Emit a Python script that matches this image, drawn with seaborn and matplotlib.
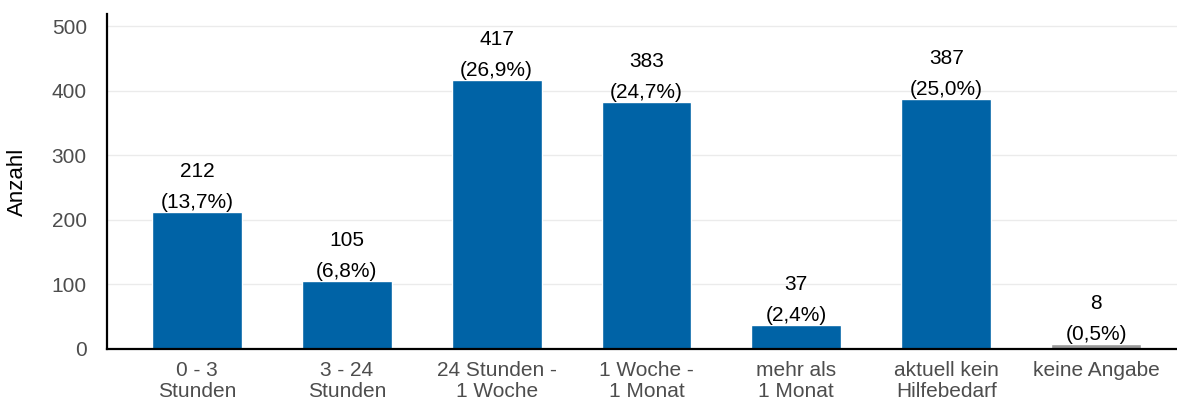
import pandas as pd
import matplotlib.pyplot as plt
import seaborn as sb

# daten
kategorien = ['0 - 3\nStunden', '3 - 24\nStunden', '24 Stunden -\n1 Woche',
              '1 Woche -\n1 Monat', 'mehr als\n1 Monat', 'aktuell kein\nHilfebedarf',
              'keine Angabe']
anzahl = [212, 105, 417, 383, 37, 387, 8]
prozent = ['13,7', '6,8', '26,9', '24,7', '2,4', '25,0', '0,5']
farben = ['#0063a6'] * 6 + ['#999999']

sb.set_style('white')
plt.rcParams['font.family'] = ['Liberation Sans', 'DejaVu Sans']

df = pd.DataFrame({'kategorie': kategorien, 'anzahl': anzahl})

fig = plt.figure(figsize=(11.77, 4.01), dpi=100)
ax = fig.add_axes([0.0909, 0.1297, 0.9091, 0.8353])

sb.barplot(data=df, x='kategorie', y='anzahl', hue='kategorie', palette=farben,
           width=0.6, saturation=1, legend=False, ax=ax, zorder=2)

for i, (n, p) in enumerate(zip(anzahl, prozent)):
    ax.annotate('{}\n({}%)'.format(n, p), (i, n), xytext=(0, 0), textcoords='offset points',
                ha='center', va='bottom', fontsize=15, color='black', linespacing=1.8)

ax.set_ylim(0, 519)
ax.set_xlim(-0.6, 6.54)
ax.set_yticks([0, 100, 200, 300, 400, 500])
ax.yaxis.grid(True, color='#ebebeb', linewidth=1, zorder=0)
ax.set_axisbelow(True)
ax.set_xlabel('')
ax.set_ylabel('Anzahl', fontsize=16, color='black')
ax.yaxis.set_label_coords(-0.0735, 0.5)
ax.tick_params(axis='both', labelsize=15, labelcolor='#4d4d4d', color='#333333',
               length=5, width=1.2, direction='out')
ax.tick_params(axis='y', pad=9.5)
ax.tick_params(axis='x', pad=3.5)
for lbl in ax.get_xticklabels():
    lbl.set_linespacing(1.15)
for s in ['top', 'right']:
    ax.spines[s].set_visible(False)
for s in ['left', 'bottom']:
    ax.spines[s].set_color('black')
    ax.spines[s].set_linewidth(1.6)

fig.savefig('out.png', dpi=100)
